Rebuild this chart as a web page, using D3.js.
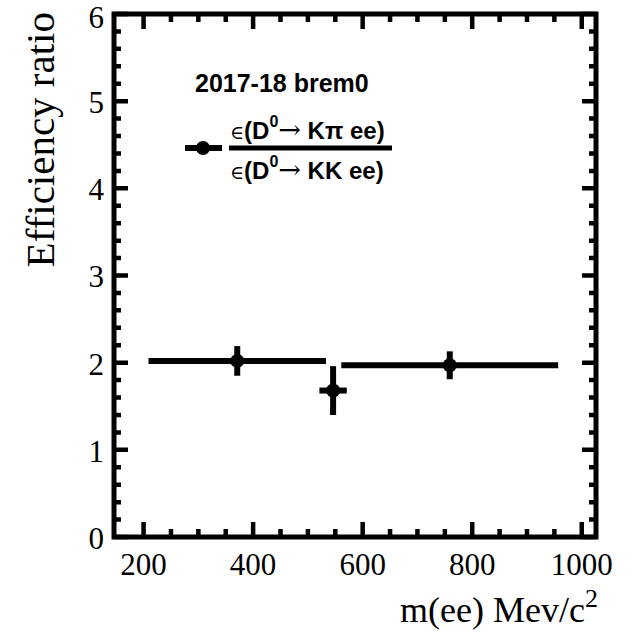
<!DOCTYPE html>
<html>
<head>
<meta charset="utf-8">
<script src="https://cdn.jsdelivr.net/npm/d3@7"></script>
<style>
  body { margin: 0; background: white; }
  svg { display: block; }
</style>
</head>
<body>
<div id="chart"></div>
<script>
// measured points: bin centre, half width, ratio, error
const mee = [371, 546, 759]
const meeErr = [162, 25, 198]
const ratio = [2.02, 1.68, 1.97]
const ratioErr = [0.17, 0.28, 0.16]

const xMajor = [200, 400, 600, 800, 1000]
const yMajor = [0, 1, 2, 3, 4, 5, 6]

const width = 638, height = 632
const frame = {left: 114, right: 596, top: 14, bottom: 537}

const svg = d3.select("#chart").append("svg")
    .attr("width", width)
    .attr("height", height)

const x = d3.scaleLinear().domain([146, 1026]).range([frame.left, frame.right])
const y = d3.scaleLinear().domain([0, 6]).range([frame.bottom, frame.top])

// frame
svg.append("rect")
    .attr("x", frame.left).attr("y", frame.top)
    .attr("width", frame.right - frame.left).attr("height", frame.bottom - frame.top)
    .attr("fill", "none").attr("stroke", "black").attr("stroke-width", 5)

// tick lists (major + minor), drawn as one path
const xMinor = d3.range(150, 1026, 50).filter(v => !xMajor.includes(v) && x(v) > frame.left + 3)
const yMinor = d3.range(0.2, 6, 0.2).filter(v => Math.abs(v - Math.round(v)) > 0.01)
const xTicks = xMajor.map(v => ({v, len: 15})).concat(xMinor.map(v => ({v, len: 8})))
const yTicks = yMajor.map(v => ({v, len: 14})).concat(yMinor.map(v => ({v, len: 7})))

let tickPath = ""
xTicks.forEach(d => {
    tickPath += `M${x(d.v)},${frame.bottom}v${-d.len}`
    tickPath += `M${x(d.v)},${frame.top}v${d.len}`
})
yTicks.forEach(d => {
    tickPath += `M${frame.left},${y(d.v)}h${d.len}`
    tickPath += `M${frame.right},${y(d.v)}h${-d.len}`
})
svg.append("path")
    .attr("d", tickPath)
    .attr("fill", "none")
    .attr("stroke", "black")
    .attr("stroke-width", 4.5)

// tick labels
svg.append("g").selectAll("text").data(xMajor).join("text")
    .attr("x", d => x(d)).attr("y", 575)
    .attr("text-anchor", "middle")
    .style("font-family", "Liberation Serif")
    .style("font-size", "31px")
    .text(d => d)

svg.append("g").selectAll("text").data(yMajor).join("text")
    .attr("x", 104).attr("y", d => Math.max(y(d) + 1, 17))
    .attr("dy", "0.35em")
    .attr("text-anchor", "end")
    .style("font-family", "Liberation Serif")
    .style("font-size", "31px")
    .text(d => d)

// axis titles
const xt = svg.append("text")
    .attr("x", 598).attr("y", 622)
    .attr("text-anchor", "end")
    .style("font-family", "Liberation Serif")
    .style("font-size", "36px")
xt.append("tspan").text("m(ee) Mev/c")
xt.append("tspan").attr("dy", -15).style("font-size", "26px").text("2")

svg.append("text")
    .attr("transform", `translate(54, ${frame.top - 2}) rotate(-90)`)
    .attr("text-anchor", "end")
    .style("font-family", "Liberation Serif")
    .style("font-size", "41px")
    .text("Efficiency ratio")

// data points
const pts = svg.append("g")
pts.selectAll("line.h").data(mee).join("line")
    .attr("class", "h")
    .attr("x1", (d, i) => x(d - meeErr[i])).attr("x2", (d, i) => x(d + meeErr[i]))
    .attr("y1", (d, i) => y(ratio[i])).attr("y2", (d, i) => y(ratio[i]))
    .attr("stroke", "black").attr("stroke-width", 6)
pts.selectAll("line.v").data(mee).join("line")
    .attr("class", "v")
    .attr("x1", d => x(d)).attr("x2", d => x(d))
    .attr("y1", (d, i) => y(ratio[i] - ratioErr[i])).attr("y2", (d, i) => y(ratio[i] + ratioErr[i]))
    .attr("stroke", "black").attr("stroke-width", 6)
pts.selectAll("circle").data(mee).join("circle")
    .attr("cx", d => x(d)).attr("cy", (d, i) => y(ratio[i]))
    .attr("r", 7).attr("fill", "black")

// legend
svg.append("text")
    .attr("x", 195).attr("y", 92)
    .style("font-family", "Liberation Sans")
    .style("font-weight", "bold")
    .style("font-size", "25px")
    .text("2017-18 brem0")

svg.append("line").attr("x1", 185).attr("x2", 222).attr("y1", 148).attr("y2", 148)
    .attr("stroke", "black").attr("stroke-width", 6)
svg.append("circle").attr("cx", 203).attr("cy", 148).attr("r", 7)

svg.append("line").attr("x1", 229).attr("x2", 392).attr("y1", 148).attr("y2", 148)
    .attr("stroke", "black").attr("stroke-width", 5)

function fracLine(yPos, tail) {
    const t = svg.append("text")
        .attr("x", 230).attr("y", yPos)
        .style("font-family", "Liberation Sans")
        .style("font-weight", "bold")
        .style("font-size", "24px")
    t.append("tspan").style("font-weight", "normal").style("font-family", "DejaVu Serif").style("font-size", "19px").text("\u2208")
    t.append("tspan").text("(D")
    t.append("tspan").attr("dy", -12).style("font-size", "16px").text("0")
    t.append("tspan").attr("dy", 12).style("font-weight", "normal").style("font-family", "DejaVu Serif").style("font-size", "27px").text("\u2192")
    t.append("tspan").text(" " + tail)
}
fracLine(139, "K\u03c0 ee)")
fracLine(179, "KK ee)")
</script>
</body>
</html>
